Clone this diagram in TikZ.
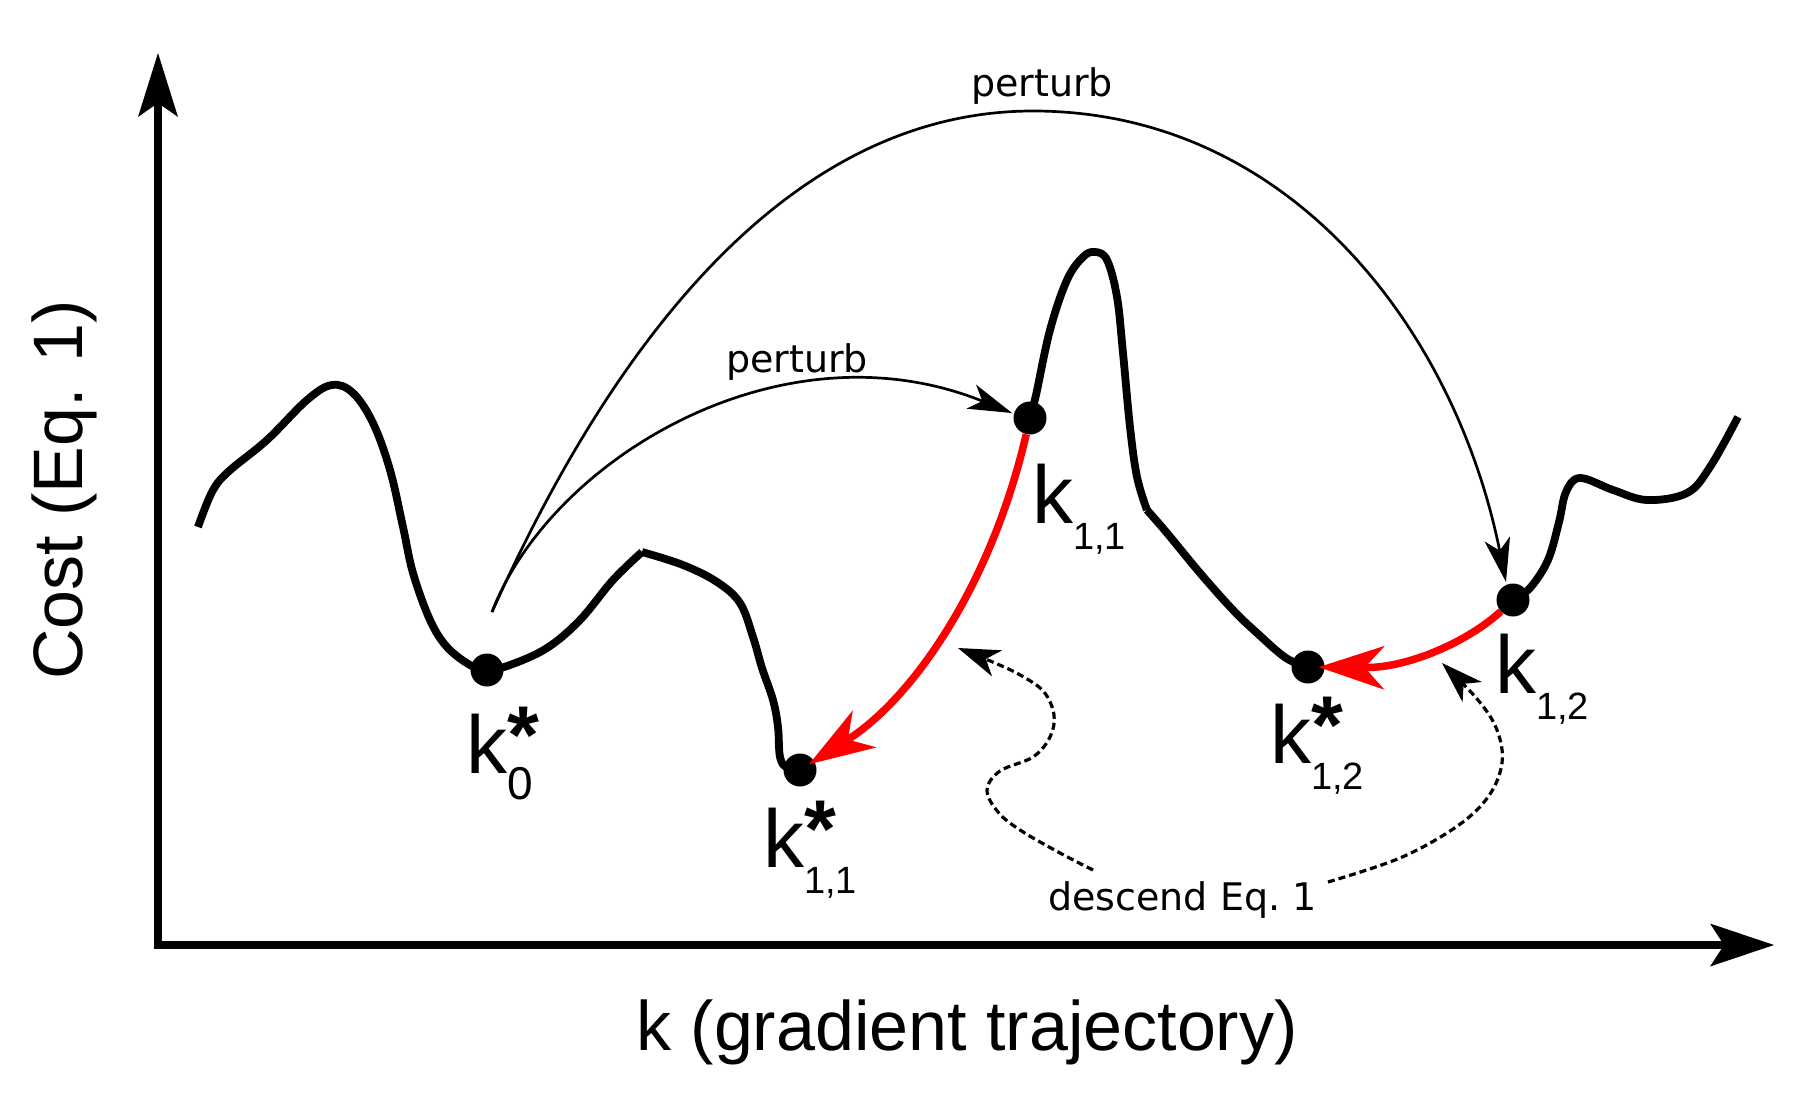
\documentclass[tikz,border=0pt]{standalone}
\usepackage{fontspec}
\setmainfont{Liberation Sans}
\newfontfamily\dejavu{DejaVu Sans}
\usetikzlibrary{arrows.meta,backgrounds}
\newcommand{\mykst}[2][38]{k\rlap{\raisebox{10pt}{\textbf{*}}}\raisebox{-26pt}{\fontsize{#1}{#1}\selectfont #2}}
\newcommand{\myksub}[1]{k\raisebox{-26pt}{\fontsize{38}{38}\selectfont #1}}
\begin{document}
\begin{tikzpicture}[x=1pt,y=-1pt,
  curve/.style={line width=7.8pt, line join=round},
  redarr/.style={draw=red, line width=7.5pt, shorten >=-6pt, -{Stealth[length=66pt,width=44pt,inset=20pt,line width=0pt]}},
  pert/.style={line width=2.7pt, -{Stealth[length=44pt,width=26pt,inset=12pt,line width=0pt]}},
  dots/.style={line width=3.2pt, dash pattern=on 7pt off 4pt, -{Stealth[length=42pt,width=28pt,inset=12pt,line width=0pt]}},
  dot/.style={circle, fill=black, inner sep=0pt, minimum size=33pt},
  axis/.style={line width=8.5pt, line join=miter, {Stealth[length=64pt,width=40pt,inset=14pt,line width=0pt]}-{Stealth[length=64pt,width=43pt,inset=14pt,line width=0pt]}},
  klab/.style={anchor=base west, inner sep=0pt, font=\fontsize{82}{82}\selectfont},
  small/.style={font=\dejavu\fontsize{38}{38}\selectfont, inner sep=0pt},
  axlab/.style={inner sep=0pt, anchor=base, font=\fontsize{70}{70}\selectfont},
]
\useasboundingbox (0,0) rectangle (1800,1110);

% axes
\coordinate (ytip) at (158,53);
\coordinate (orig) at (158,945);
\coordinate (xtip) at (1774,945);
\draw[axis] (ytip) -- (orig) -- (xtip);

% axis labels
\node[axlab] (xl) at (967,1050) {k (gradient trajectory)};
\node[axlab, rotate=90] (yl) at (82,490) {Cost (Eq. 1)};

% points
\node[dot] (k0s) at (487,670) {};
\node[dot] (k11s) at (800,770) {};
\node[dot] (k11) at (1030,418) {};
\node[dot] (k12s) at (1308,667) {};
\node[dot] (k12) at (1513,600) {};

\coordinate (ps) at (492,612);
\coordinate (ptop) at (1033,111);
\coordinate (bigtip) at (1506,582);
\coordinate (smalltip) at (1012,413);
\coordinate (dl) at (1093,870);
\coordinate (dr) at (1328,882);
\coordinate (dtl) at (958,648);
\coordinate (dtr) at (1442,663);

\begin{scope}[on background layer]
\draw[curve] plot[smooth, tension=0.6] coordinates {(198,527) (212,492) (228,472) (267,440) (307,400) (332,385) (353,393) (373,423) (390,470) (403,527) (413,573) (430,620) (447,647) (470,665) (k0s.center) (510,665) (547,648) (580,620) (613,580) (642,552)};
\draw[curve] plot[smooth, tension=0.6] coordinates {(642,552) (683,565) (717,582) (740,603) (753,637) (762,668) (773,700) (778,727) (780,757) (787,768) (k11s.center)};
\draw[curve] plot[smooth, tension=0.6] coordinates {(k11.center) (1036,395) (1050,330) (1067,280) (1083,257) (1095,252) (1107,260) (1117,297) (1123,353) (1130,427) (1137,477) (1147,510)};
\draw[curve] plot[smooth, tension=0.6] coordinates {(1147,510) (1167,533) (1200,573) (1233,610) (1257,633) (1286,658) (k12s.center)};
\draw[curve] plot[smooth, tension=0.6] coordinates {(k12.center) (1530,588) (1548,560) (1559,522) (1566,492) (1580,478) (1613,490) (1647,500) (1687,493) (1710,467) (1738,417)};

\draw[pert] (ps) .. controls (605,360) and (780,111) .. (ptop) .. controls (1290,111) and (1455,330) .. (bigtip);
\draw[pert] (ps) .. controls (550,460) and (780,320) .. (smalltip);

\draw[dots] plot[smooth, tension=0.6] coordinates {(dl) (1060,853) (1020,830) (998,812) (987,790) (1000,771) (1033,757) (1050,737) (1054,715) (1044,692) (1022,676) (995,663) (dtl)};
\draw[dots] plot[smooth, tension=0.6] coordinates {(dr) (1400,858) (1456,827) (1488,797) (1502,763) (1497,730) (1478,700) (dtr)};
\end{scope}

\draw[redarr] (k11) .. controls (990,590) and (910,700) .. (k11s);
\draw[redarr] (k12) .. controls (1470,640) and (1410,668) .. (k12s);

% labels
\node[klab] (l0s) at (466,773) {\mykst[46]{0}};
\node[klab] (l11s) at (763,867) {\mykst{1,1}};
\node[klab] (l11) at (1032,523) {\myksub{1,1}};
\node[klab] (l12s) at (1270,763) {\mykst{1,2}};
\node[klab] (l12) at (1495,693) {\myksub{1,2}};

\node[small, anchor=base] (p1) at (1042,97) {perturb};
\node[small, anchor=base] (p2) at (797,372) {perturb};
\node[small, anchor=base west] (desc) at (1048,910) {descend Eq.~1};
\end{tikzpicture}
\end{document}
